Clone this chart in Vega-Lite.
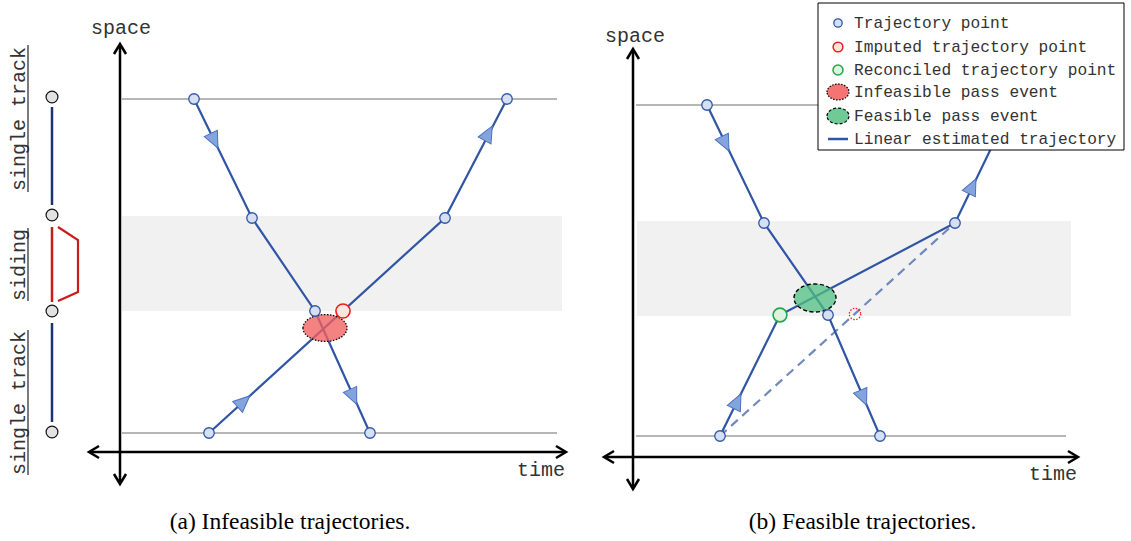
{
  "$schema": "https://vega.github.io/schema/vega-lite/v6.json",
  "padding": 0,
  "spacing": 0,
  "bounds": "flush",
  "background": "#ffffff",
  "config": {"view": {"stroke": null}},
  "resolve": {"scale": {"x": "independent", "y": "independent"}},
  "datasets": {
    "bands": [
      {"panel": "a", "t": 2, "t2": 442, "s": 141, "s2": 236},
      {"panel": "b", "t": 4, "t2": 438, "s": 141, "s2": 236}
    ],
    "stations": [
      {"panel": "a", "station": "upper", "t": 2, "t2": 437, "s": 353, "s2": 353},
      {"panel": "a", "station": "lower", "t": 2, "t2": 437, "s": 19, "s2": 19},
      {"panel": "b", "station": "upper", "t": 3, "t2": 433, "s": 352, "s2": 352},
      {"panel": "b", "station": "lower", "t": 3, "t2": 433, "s": 21, "s2": 21}
    ],
    "axes": [
      {"panel": "a", "axis": "space", "t": 0, "t2": 0, "s": -31, "s2": 407},
      {"panel": "a", "axis": "time", "t": -30, "t2": 445, "s": 0, "s2": 0},
      {"panel": "b", "axis": "space", "t": 0, "t2": 0, "s": -31, "s2": 407},
      {"panel": "b", "axis": "time", "t": -28, "t2": 444, "s": 0, "s2": 0}
    ],
    "arrowheads": [
      {"panel": "a", "head": "up", "seq": 1, "t": -6, "s": 398},
      {"panel": "a", "head": "up", "seq": 2, "t": 0, "s": 408},
      {"panel": "a", "head": "up", "seq": 3, "t": 6, "s": 398},
      {"panel": "a", "head": "down", "seq": 1, "t": -6, "s": -22},
      {"panel": "a", "head": "down", "seq": 2, "t": 0, "s": -32},
      {"panel": "a", "head": "down", "seq": 3, "t": 6, "s": -22},
      {"panel": "a", "head": "left", "seq": 1, "t": -21, "s": 6},
      {"panel": "a", "head": "left", "seq": 2, "t": -31, "s": 0},
      {"panel": "a", "head": "left", "seq": 3, "t": -21, "s": -6},
      {"panel": "a", "head": "right", "seq": 1, "t": 436, "s": 6},
      {"panel": "a", "head": "right", "seq": 2, "t": 446, "s": 0},
      {"panel": "a", "head": "right", "seq": 3, "t": 436, "s": -6},
      {"panel": "b", "head": "up", "seq": 1, "t": -6, "s": 398},
      {"panel": "b", "head": "up", "seq": 2, "t": 0, "s": 408},
      {"panel": "b", "head": "up", "seq": 3, "t": 6, "s": 398},
      {"panel": "b", "head": "down", "seq": 1, "t": -6, "s": -22},
      {"panel": "b", "head": "down", "seq": 2, "t": 0, "s": -32},
      {"panel": "b", "head": "down", "seq": 3, "t": 6, "s": -22},
      {"panel": "b", "head": "left", "seq": 1, "t": -19, "s": 6},
      {"panel": "b", "head": "left", "seq": 2, "t": -29, "s": 0},
      {"panel": "b", "head": "left", "seq": 3, "t": -19, "s": -6},
      {"panel": "b", "head": "right", "seq": 1, "t": 435, "s": 6},
      {"panel": "b", "head": "right", "seq": 2, "t": 445, "s": 0},
      {"panel": "b", "head": "right", "seq": 3, "t": 435, "s": -6}
    ],
    "trajectories": [
      {"panel": "a", "train": "southbound", "seq": 1, "t": 74, "s": 353},
      {"panel": "a", "train": "southbound", "seq": 2, "t": 132, "s": 234},
      {"panel": "a", "train": "southbound", "seq": 3, "t": 195, "s": 141},
      {"panel": "a", "train": "southbound", "seq": 4, "t": 250, "s": 19},
      {"panel": "a", "train": "northbound", "seq": 1, "t": 89, "s": 19},
      {"panel": "a", "train": "northbound", "seq": 2, "t": 325, "s": 234},
      {"panel": "a", "train": "northbound", "seq": 3, "t": 387, "s": 353},
      {"panel": "b", "train": "southbound", "seq": 1, "t": 74, "s": 352},
      {"panel": "b", "train": "southbound", "seq": 2, "t": 131, "s": 234},
      {"panel": "b", "train": "southbound", "seq": 3, "t": 195, "s": 142},
      {"panel": "b", "train": "southbound", "seq": 4, "t": 247, "s": 21},
      {"panel": "b", "train": "northbound", "seq": 1, "t": 87, "s": 21},
      {"panel": "b", "train": "northbound", "seq": 2, "t": 147, "s": 142},
      {"panel": "b", "train": "northbound", "seq": 3, "t": 322, "s": 234},
      {"panel": "b", "train": "northbound", "seq": 4, "t": 379, "s": 352}
    ],
    "estimates": [
      {"panel": "b", "train": "northbound", "seq": 1, "t": 87, "s": 21},
      {"panel": "b", "train": "northbound", "seq": 2, "t": 322, "s": 234}
    ],
    "headings": [
      {"panel": "a", "train": "southbound", "t": 94, "s": 312, "heading": 154},
      {"panel": "a", "train": "northbound", "t": 368, "s": 318, "heading": 28},
      {"panel": "a", "train": "northbound", "t": 123, "s": 50, "heading": 48},
      {"panel": "a", "train": "southbound", "t": 233, "s": 56, "heading": 156},
      {"panel": "b", "train": "southbound", "t": 92, "s": 314, "heading": 154},
      {"panel": "b", "train": "northbound", "t": 339, "s": 270, "heading": 26},
      {"panel": "b", "train": "northbound", "t": 104, "s": 55, "heading": 26},
      {"panel": "b", "train": "southbound", "t": 230, "s": 60, "heading": 157}
    ],
    "events": [
      {"panel": "a", "outcome": "infeasible", "t": 205, "s": 124},
      {"panel": "b", "outcome": "feasible", "t": 182, "s": 159}
    ],
    "observations": [
      {"panel": "a", "kind": "observed", "t": 74, "s": 353},
      {"panel": "a", "kind": "observed", "t": 132, "s": 234},
      {"panel": "a", "kind": "observed", "t": 195, "s": 141},
      {"panel": "a", "kind": "observed", "t": 250, "s": 19},
      {"panel": "a", "kind": "observed", "t": 89, "s": 19},
      {"panel": "a", "kind": "observed", "t": 325, "s": 234},
      {"panel": "a", "kind": "observed", "t": 387, "s": 353},
      {"panel": "a", "kind": "imputed", "t": 223, "s": 141},
      {"panel": "b", "kind": "observed", "t": 74, "s": 352},
      {"panel": "b", "kind": "observed", "t": 131, "s": 234},
      {"panel": "b", "kind": "observed", "t": 195, "s": 142},
      {"panel": "b", "kind": "observed", "t": 247, "s": 21},
      {"panel": "b", "kind": "observed", "t": 87, "s": 21},
      {"panel": "b", "kind": "observed", "t": 322, "s": 234},
      {"panel": "b", "kind": "reconciled", "t": 147, "s": 142},
      {"panel": "b", "kind": "discarded", "t": 222, "s": 143}
    ],
    "track": [
      {"kind": "single track", "t": -68, "t2": -68, "s": 345, "s2": 247},
      {"kind": "siding", "t": -68, "t2": -68, "s": 225, "s2": 150},
      {"kind": "single track", "t": -68, "t2": -68, "s": 129, "s2": 30}
    ],
    "siding_loop": [
      {"seq": 1, "t": -62, "s": 225},
      {"seq": 2, "t": -42, "s": 212},
      {"seq": 3, "t": -42, "s": 160},
      {"seq": 4, "t": -62, "s": 151}
    ],
    "nodes": [
      {"node": 1, "t": -68, "s": 355},
      {"node": 2, "t": -68, "s": 237},
      {"node": 3, "t": -68, "s": 141},
      {"node": 4, "t": -68, "s": 20}
    ],
    "sections": [
      {"label": "single track", "t": -95, "s": 333, "t2": -92, "from": 407, "to": 260},
      {"label": "siding", "t": -95, "s": 187, "t2": -92, "from": 224, "to": 151},
      {"label": "single track", "t": -95, "s": 49, "t2": -92, "from": 122, "to": -23}
    ],
    "axis_labels": [
      {"panel": "a", "label": "space", "t": 1, "s": 424},
      {"panel": "a", "label": "time", "t": 421, "s": -18},
      {"panel": "b", "label": "space", "t": 2, "s": 421},
      {"panel": "b", "label": "time", "t": 420, "s": -17}
    ],
    "legend_box": [
      {"t": 185, "t2": 491, "s": 307, "s2": 454}
    ],
    "legend": [
      {"item": "Trajectory point", "t": 205, "s": 434},
      {"item": "Imputed trajectory point", "t": 205, "s": 410},
      {"item": "Reconciled trajectory point", "t": 205, "s": 387},
      {"item": "Infeasible pass event", "t": 205, "s": 365},
      {"item": "Feasible pass event", "t": 205, "s": 341},
      {"item": "Linear estimated trajectory", "t": 205, "s": 318}
    ]
  },
  "hconcat": [
    {
      "width": 590,
      "height": 506,
      "title": {"text": "(a) Infeasible trajectories.", "orient": "bottom", "anchor": "middle", "offset": 4, "dx": -5, "font": "Liberation Serif", "fontSize": 23.5, "fontWeight": "normal", "color": "#000000"},
      "encoding": {
        "x": {"field": "t", "type": "quantitative", "axis": null, "scale": {"domain": [-120, 470], "nice": false, "zero": false}},
        "y": {"field": "s", "type": "quantitative", "axis": null, "scale": {"domain": [-54, 452], "nice": false, "zero": false}}
      },
      "layer": [
        {
          "data": {"name": "bands"},
          "transform": [{"filter": "datum.panel === 'a'"}],
          "mark": {"type": "rect", "fill": "#f1f1f1"},
          "encoding": {"x2": {"field": "t2"}, "y2": {"field": "s2"}}
        },
        {
          "data": {"name": "stations"},
          "transform": [{"filter": "datum.panel === 'a'"}],
          "mark": {"type": "rule", "stroke": "#9e9e9e", "strokeWidth": 1.5},
          "encoding": {"x2": {"field": "t2"}, "y2": {"field": "s2"}}
        },
        {
          "data": {"name": "track"},
          "mark": {"type": "rule", "strokeWidth": 2.5},
          "encoding": {
            "x2": {"field": "t2"}, "y2": {"field": "s2"},
            "stroke": {"field": "kind", "type": "nominal", "legend": null, "scale": {"domain": ["single track", "siding"], "range": ["#1b3370", "#cc1a1a"]}}
          }
        },
        {
          "data": {"name": "siding_loop"},
          "mark": {"type": "line", "stroke": "#cc1a1a", "strokeWidth": 2.2, "strokeJoin": "miter"},
          "encoding": {"order": {"field": "seq"}}
        },
        {
          "data": {"name": "nodes"},
          "mark": {"type": "point", "shape": "circle", "filled": true, "fill": "#e2e2e2", "stroke": "#111111", "strokeWidth": 1.2, "size": 140, "opacity": 1}
        },
        {
          "data": {"name": "sections"},
          "mark": {"type": "text", "angle": 270, "align": "center", "baseline": "alphabetic", "font": "Liberation Mono", "fontSize": 20, "fill": "#333333"},
          "encoding": {"text": {"field": "label"}}
        },
        {
          "data": {"name": "sections"},
          "mark": {"type": "rule", "stroke": "#222222", "strokeWidth": 1.2},
          "encoding": {"x": {"field": "t2", "type": "quantitative"}, "y": {"field": "from", "type": "quantitative"}, "y2": {"field": "to"}}
        },
        {
          "data": {"name": "axes"},
          "transform": [{"filter": "datum.panel === 'a'"}],
          "mark": {"type": "rule", "stroke": "#000000", "strokeWidth": 2.5},
          "encoding": {"x2": {"field": "t2"}, "y2": {"field": "s2"}}
        },
        {
          "data": {"name": "arrowheads"},
          "transform": [{"filter": "datum.panel === 'a'"}],
          "mark": {"type": "line", "stroke": "#000000", "strokeWidth": 2.5, "strokeJoin": "miter"},
          "encoding": {"detail": {"field": "head"}, "order": {"field": "seq"}}
        },
        {
          "data": {"name": "trajectories"},
          "transform": [{"filter": "datum.panel === 'a'"}],
          "mark": {"type": "line", "stroke": "#2f55a4", "strokeWidth": 2.2},
          "encoding": {"detail": {"field": "train"}, "order": {"field": "seq"}}
        },
        {
          "data": {"name": "headings"},
          "transform": [{"filter": "datum.panel === 'a'"}],
          "mark": {"type": "point", "shape": "M0,-1L0.8,0.8L-0.8,0.8Z", "filled": true, "fill": "#86a4dc", "stroke": "#4a72c0", "strokeWidth": 1, "size": 330, "opacity": 1},
          "encoding": {"angle": {"field": "heading", "type": "quantitative", "scale": null}}
        },
        {
          "data": {"name": "events"},
          "transform": [{"filter": "datum.panel === 'a'"}],
          "mark": {"type": "point", "shape": "M-1,0A1,0.61,0,1,1,1,0A1,0.61,0,1,1,-1,0Z", "filled": true, "fill": "#f25f5f", "fillOpacity": 0.78, "stroke": "#000000", "strokeWidth": 1.3, "strokeDash": [1.5, 1.5], "size": 1936, "opacity": 1}
        },
        {
          "data": {"name": "observations"},
          "transform": [{"filter": "datum.panel === 'a' && datum.kind === 'observed'"}],
          "mark": {"type": "point", "shape": "circle", "filled": true, "fill": "#d6e0f5", "stroke": "#2f55a4", "strokeWidth": 1.3, "size": 110, "opacity": 1}
        },
        {
          "data": {"name": "observations"},
          "transform": [{"filter": "datum.panel === 'a' && datum.kind === 'imputed'"}],
          "mark": {"type": "point", "shape": "circle", "filled": true, "fill": "#fde4dc", "stroke": "#e8201c", "strokeWidth": 1.6, "size": 200, "opacity": 1}
        },
        {
          "data": {"name": "axis_labels"},
          "transform": [{"filter": "datum.panel === 'a'"}],
          "mark": {"type": "text", "align": "center", "baseline": "middle", "font": "Liberation Mono", "fontSize": 20, "fill": "#333333"},
          "encoding": {"text": {"field": "label"}}
        }
      ]
    },
    {
      "width": 541,
      "height": 506,
      "title": {"text": "(b) Feasible trajectories.", "orient": "bottom", "anchor": "middle", "offset": 4, "dx": 2, "font": "Liberation Serif", "fontSize": 23.5, "fontWeight": "normal", "color": "#000000"},
      "encoding": {
        "x": {"field": "t", "type": "quantitative", "axis": null, "scale": {"domain": [-43, 498], "nice": false, "zero": false}},
        "y": {"field": "s", "type": "quantitative", "axis": null, "scale": {"domain": [-49, 457], "nice": false, "zero": false}}
      },
      "layer": [
        {
          "data": {"name": "bands"},
          "transform": [{"filter": "datum.panel === 'b'"}],
          "mark": {"type": "rect", "fill": "#f1f1f1"},
          "encoding": {"x2": {"field": "t2"}, "y2": {"field": "s2"}}
        },
        {
          "data": {"name": "stations"},
          "transform": [{"filter": "datum.panel === 'b'"}],
          "mark": {"type": "rule", "stroke": "#9e9e9e", "strokeWidth": 1.5},
          "encoding": {"x2": {"field": "t2"}, "y2": {"field": "s2"}}
        },
        {
          "data": {"name": "axes"},
          "transform": [{"filter": "datum.panel === 'b'"}],
          "mark": {"type": "rule", "stroke": "#000000", "strokeWidth": 2.5},
          "encoding": {"x2": {"field": "t2"}, "y2": {"field": "s2"}}
        },
        {
          "data": {"name": "arrowheads"},
          "transform": [{"filter": "datum.panel === 'b'"}],
          "mark": {"type": "line", "stroke": "#000000", "strokeWidth": 2.5, "strokeJoin": "miter"},
          "encoding": {"detail": {"field": "head"}, "order": {"field": "seq"}}
        },
        {
          "data": {"name": "estimates"},
          "mark": {"type": "line", "stroke": "#6f88bd", "strokeWidth": 2.2, "strokeDash": [9, 6]},
          "encoding": {"detail": {"field": "train"}, "order": {"field": "seq"}}
        },
        {
          "data": {"name": "trajectories"},
          "transform": [{"filter": "datum.panel === 'b'"}],
          "mark": {"type": "line", "stroke": "#2f55a4", "strokeWidth": 2.2},
          "encoding": {"detail": {"field": "train"}, "order": {"field": "seq"}}
        },
        {
          "data": {"name": "headings"},
          "transform": [{"filter": "datum.panel === 'b'"}],
          "mark": {"type": "point", "shape": "M0,-1L0.8,0.8L-0.8,0.8Z", "filled": true, "fill": "#86a4dc", "stroke": "#4a72c0", "strokeWidth": 1, "size": 330, "opacity": 1},
          "encoding": {"angle": {"field": "heading", "type": "quantitative", "scale": null}}
        },
        {
          "data": {"name": "events"},
          "transform": [{"filter": "datum.panel === 'b'"}],
          "mark": {"type": "point", "shape": "M-1,0A1,0.667,0,1,1,1,0A1,0.667,0,1,1,-1,0Z", "filled": true, "fill": "#4fbf80", "fillOpacity": 0.75, "stroke": "#000000", "strokeWidth": 1.4, "strokeDash": [4, 2.5], "size": 1764, "opacity": 1}
        },
        {
          "data": {"name": "observations"},
          "transform": [{"filter": "datum.panel === 'b' && datum.kind === 'observed'"}],
          "mark": {"type": "point", "shape": "circle", "filled": true, "fill": "#d6e0f5", "stroke": "#2f55a4", "strokeWidth": 1.3, "size": 110, "opacity": 1}
        },
        {
          "data": {"name": "observations"},
          "transform": [{"filter": "datum.panel === 'b' && datum.kind === 'reconciled'"}],
          "mark": {"type": "point", "shape": "circle", "filled": true, "fill": "#dff2df", "stroke": "#1fa84a", "strokeWidth": 1.6, "size": 190, "opacity": 1}
        },
        {
          "data": {"name": "observations"},
          "transform": [{"filter": "datum.panel === 'b' && datum.kind === 'discarded'"}],
          "mark": {"type": "point", "shape": "circle", "filled": true, "fill": "#ffffff", "fillOpacity": 0, "stroke": "#e8201c", "strokeWidth": 1.2, "strokeDash": [1.5, 1.5], "size": 130, "opacity": 1}
        },
        {
          "data": {"name": "axis_labels"},
          "transform": [{"filter": "datum.panel === 'b'"}],
          "mark": {"type": "text", "align": "center", "baseline": "middle", "font": "Liberation Mono", "fontSize": 20, "fill": "#333333"},
          "encoding": {"text": {"field": "label"}}
        },
        {
          "data": {"name": "legend_box"},
          "mark": {"type": "rect", "fill": "#ffffff", "stroke": "#000000", "strokeWidth": 1},
          "encoding": {"x2": {"field": "t2"}, "y2": {"field": "s2"}}
        },
        {
          "data": {"name": "legend"},
          "transform": [{"filter": "datum.item === 'Trajectory point'"}],
          "mark": {"type": "point", "shape": "circle", "filled": true, "fill": "#d6e0f5", "stroke": "#2f55a4", "strokeWidth": 1.3, "size": 70, "opacity": 1}
        },
        {
          "data": {"name": "legend"},
          "transform": [{"filter": "datum.item === 'Imputed trajectory point'"}],
          "mark": {"type": "point", "shape": "circle", "filled": true, "fill": "#fde4dc", "stroke": "#e8201c", "strokeWidth": 1.5, "size": 95, "opacity": 1}
        },
        {
          "data": {"name": "legend"},
          "transform": [{"filter": "datum.item === 'Reconciled trajectory point'"}],
          "mark": {"type": "point", "shape": "circle", "filled": true, "fill": "#dff2df", "stroke": "#1fa84a", "strokeWidth": 1.5, "size": 100, "opacity": 1}
        },
        {
          "data": {"name": "legend"},
          "transform": [{"filter": "datum.item === 'Infeasible pass event'"}],
          "mark": {"type": "point", "shape": "M-1,0A1,0.72,0,1,1,1,0A1,0.72,0,1,1,-1,0Z", "filled": true, "fill": "#f47474", "stroke": "#000000", "strokeWidth": 1.2, "strokeDash": [1.5, 1.5], "size": 484, "opacity": 1}
        },
        {
          "data": {"name": "legend"},
          "transform": [{"filter": "datum.item === 'Feasible pass event'"}],
          "mark": {"type": "point", "shape": "M-1,0A1,0.72,0,1,1,1,0A1,0.72,0,1,1,-1,0Z", "filled": true, "fill": "#6fca96", "stroke": "#000000", "strokeWidth": 1.2, "strokeDash": [3, 2], "size": 484, "opacity": 1}
        },
        {
          "data": {"name": "legend"},
          "transform": [{"filter": "datum.item === 'Linear estimated trajectory'"}],
          "mark": {"type": "point", "shape": "stroke", "filled": false, "stroke": "#2f55a4", "strokeWidth": 2.5, "size": 400, "opacity": 1}
        },
        {
          "data": {"name": "legend"},
          "mark": {"type": "text", "align": "left", "baseline": "middle", "dx": 16, "font": "Liberation Mono", "fontSize": 16.2, "fill": "#333333"},
          "encoding": {"text": {"field": "item"}}
        }
      ]
    }
  ]
}
